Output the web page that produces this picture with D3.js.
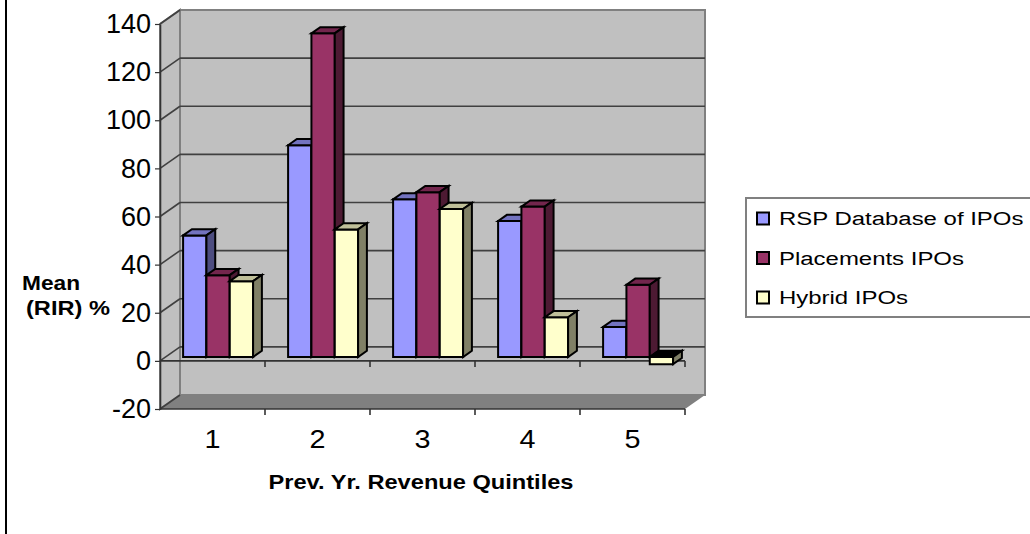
<!DOCTYPE html>
<html>
<head>
<meta charset="utf-8">
<script src="https://cdn.jsdelivr.net/npm/d3@7"></script>
<style>
  html, body { margin: 0; padding: 0; background: #fff; }
  svg { display: block; font-family: "Liberation Sans", Arial, sans-serif; }
</style>
</head>
<body>
<svg id="chart" width="1030" height="534"></svg>
<script>
// Mean RIR (%) by previous-year revenue quintile
const quintiles = ["1", "2", "3", "4", "5"];
const seriesNames = ["RSP Database of IPOs", "Placements IPOs", "Hybrid IPOs"];
const rspValues = [50.5, 88, 65.5, 56.5, 12.5];
const placementValues = [34, 134.5, 68.5, 62.5, 30];
const hybridValues = [31.5, 53, 61.5, 16.5, -3];
const valueTicks = [-20, 0, 20, 40, 60, 80, 100, 120, 140];

const seriesValues = [rspValues, placementValues, hybridValues];
// front / top / side shading for each series
const seriesFill = [
  { front: "#9999ff", top: "#7373bf", side: "#4d4d80" },
  { front: "#993366", top: "#73264d", side: "#4d1a33" },
  { front: "#ffffcc", top: "#bfbf99", side: "#808066" }
];

const svg = d3.select("#chart");

// widen a text element horizontally by factor k (keeps its height)
function stretch(sel, k) {
  sel.each(function () {
    const len = this.getComputedTextLength();
    d3.select(this).attr("textLength", len * k).attr("lengthAdjust", "spacingAndGlyphs");
  });
}

// plot box (front plane) and the depth offset toward the back wall
const plotLeft = 160, plotRight = 685, plotTop = 24, plotBottom = 409;
const DX = 20, DY = 14;
const barD0 = 0.28, barD1 = 0.72;

const y = d3.scaleLinear().domain([-20, 140]).range([plotBottom, plotTop]);
const x = d3.scaleBand().domain(quintiles).range([plotLeft, plotRight]).padding(0);
const xs = d3.scaleBand().domain(d3.range(seriesNames.length))
  .range([0, x.bandwidth()]).paddingInner(0).paddingOuter(0.75);

// project a front-plane point back by depth fraction d
const P = (px, py, d) => [px + d * DX, py - d * DY];
const poly = pts => "M" + pts.map(p => p.join(",")).join("L") + "Z";

// outer chart border (left edge)
svg.append("line").attr("x1", 6).attr("x2", 6).attr("y1", 0).attr("y2", 534)
  .attr("stroke", "#000").attr("stroke-width", 2);

const yMin = y(-20), yMax = y(140);

// back wall
svg.append("path")
  .attr("d", poly([P(plotLeft, yMax, 1), P(plotRight, yMax, 1), P(plotRight, yMin, 1), P(plotLeft, yMin, 1)]))
  .attr("fill", "#c0c0c0").attr("stroke", "#808080").attr("stroke-width", 2);
// side wall
svg.append("path")
  .attr("d", poly([[plotLeft, yMax], P(plotLeft, yMax, 1), P(plotLeft, yMin, 1), [plotLeft, yMin]]))
  .attr("fill", "#c0c0c0").attr("stroke", "#808080").attr("stroke-width", 2);
// floor
svg.append("path")
  .attr("d", poly([[plotLeft, yMin], P(plotLeft, yMin, 1), P(plotRight, yMin, 1), [plotRight, yMin]]))
  .attr("fill", "#808080");

// gridlines on back wall and side wall
const grid = svg.append("g").attr("stroke", "#404040").attr("stroke-width", 1.6).attr("fill", "none");
valueTicks.forEach(v => {
  const b0 = P(plotLeft, y(v), 1), b1 = P(plotRight, y(v), 1);
  if (v > -20 && v < 140) {
    grid.append("line").attr("x1", b0[0]).attr("y1", b0[1]).attr("x2", b1[0]).attr("y2", b1[1]);
  }
  grid.append("line").attr("x1", plotLeft).attr("y1", y(v)).attr("x2", b0[0]).attr("y2", b0[1]);
});

// category axis at zero and along the floor front edge
const axisLines = svg.append("g").attr("stroke", "#333").attr("stroke-width", 1.6);
[y(0), yMin].forEach(yy => {
  axisLines.append("line").attr("x1", plotLeft).attr("x2", plotRight).attr("y1", yy).attr("y2", yy);
  quintiles.forEach(q => {
    const bx = x(q) + x.bandwidth();
    axisLines.append("line").attr("x1", bx).attr("x2", bx).attr("y1", yy).attr("y2", yy + 6);
  });
});

// value axis
const yAxis = svg.append("g").attr("transform", `translate(${plotLeft},0)`)
  .call(d3.axisLeft(y).tickValues(valueTicks).tickFormat(d => String(d))
    .tickSize(5).tickPadding(4).tickSizeOuter(0));
yAxis.select(".domain").attr("stroke", "#333").attr("stroke-width", 1.6);
yAxis.selectAll(".tick line").attr("stroke", "#333").attr("stroke-width", 1.2);
yAxis.selectAll(".tick text").attr("font-size", 27).attr("fill", "#000")
  .attr("font-family", "Liberation Sans, Arial, sans-serif");

// bars
const bars = svg.append("g").attr("stroke", "#000").attr("stroke-width", 2).attr("stroke-linejoin", "miter");
quintiles.forEach((q, ci) => {
  seriesValues.forEach((vals, si) => {
    const v = vals[ci];
    const x0 = x(q) + xs(si), x1 = x0 + xs.bandwidth();
    const yt = y(Math.max(v, 0)), yb = y(Math.min(v, 0));
    const c = seriesFill[si];
    bars.append("path").attr("fill", c.front)
      .attr("d", poly([P(x0, yt, barD0), P(x1, yt, barD0), P(x1, yb, barD0), P(x0, yb, barD0)]));
    bars.append("path").attr("fill", v < 0 ? "#000" : c.top)
      .attr("d", poly([P(x0, yt, barD0), P(x0, yt, barD1), P(x1, yt, barD1), P(x1, yt, barD0)]));
    bars.append("path").attr("fill", c.side)
      .attr("d", poly([P(x1, yt, barD0), P(x1, yt, barD1), P(x1, yb, barD1), P(x1, yb, barD0)]));
  });
});

// category labels
const xAxis = svg.append("g").attr("transform", `translate(0,${yMin + 21})`)
  .call(d3.axisBottom(x).tickSize(0).tickPadding(0));
xAxis.select(".domain").remove();
xAxis.selectAll(".tick text").attr("font-size", 25).attr("fill", "#000")
  .attr("font-family", "Liberation Sans, Arial, sans-serif")
  .call(stretch, 1.15);

// axis titles
svg.append("text").attr("x", 421).attr("y", 489).attr("text-anchor", "middle")
  .attr("font-size", 21).attr("font-weight", "bold").text("Prev. Yr. Revenue Quintiles")
  .attr("textLength", 305).attr("lengthAdjust", "spacingAndGlyphs");
const yTitle = svg.append("g").attr("font-size", 20).attr("font-weight", "bold");
yTitle.append("text").attr("x", 22).attr("y", 290).text("Mean")
  .attr("textLength", 58).attr("lengthAdjust", "spacingAndGlyphs");
yTitle.append("text").attr("x", 26).attr("y", 315).text("(RIR) %")
  .attr("textLength", 84).attr("lengthAdjust", "spacingAndGlyphs");

// legend
const legend = svg.append("g");
legend.append("rect").attr("x", 746).attr("y", 198).attr("width", 300).attr("height", 119)
  .attr("fill", "#fff").attr("stroke", "#808080").attr("stroke-width", 2);
seriesNames.forEach((name, i) => {
  const cy = 219 + i * 39.5;
  legend.append("rect").attr("x", 757).attr("y", cy - 6.5).attr("width", 12).attr("height", 12)
    .attr("fill", seriesFill[i].front).attr("stroke", "#000").attr("stroke-width", 2);
  legend.append("text").attr("x", 779).attr("y", cy).attr("dy", "0.36em")
    .attr("font-size", 18).attr("fill", "#000").text(name)
    .call(stretch, 1.33);
});
</script>
</body>
</html>
